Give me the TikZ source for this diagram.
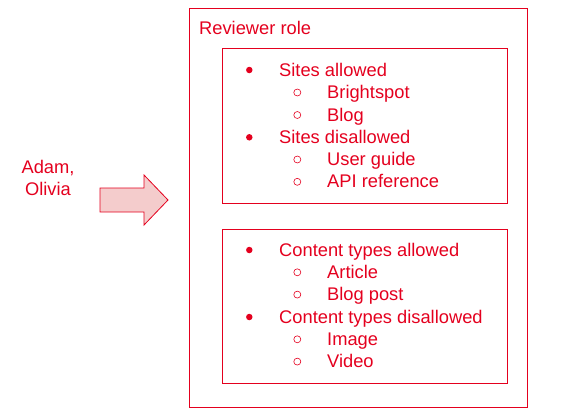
\documentclass[tikz,border=0pt]{standalone}
\usepackage{fontspec}
\setmainfont{Liberation Sans}
\definecolor{rd}{RGB}{228,0,30}
\definecolor{pk}{RGB}{244,204,204}
\begin{document}
\begin{tikzpicture}[x=1pt,y=-1pt,
  txt/.style={anchor=base west,inner sep=0pt,text=rd,font=\fontsize{18.3}{22}\selectfont},
  boxline/.style={draw=rd,line width=1pt},
  dotb/.style={circle,fill=rd,inner sep=0pt,minimum size=6.5pt},
  ringb/.style={circle,draw=rd,line width=0.6pt,inner sep=0pt,minimum size=7pt}]
\useasboundingbox (0,0) rectangle (580,410);
% outer and inner boxes
\draw[boxline] (189.5,8) rectangle (527,407.5);
\draw[boxline] (222,48.5) rectangle (507,203);
\draw[boxline] (222,229) rectangle (507,383);
\node[txt] (title) at (199,34.3) {Reviewer role};
% arrow
\draw[draw=rd,fill=pk,line width=0.8pt] (100,188) -- (144,188) -- (144,175) -- (168,200) -- (144,225) -- (144,212) -- (100,212) -- cycle;
\node[txt,anchor=base,align=center] (who) at (48,195.7) {Adam,\\[0pt]Olivia};
% box 1
\node[dotb] (b1) at (249.3,70) {};
\node[txt] (t1) at (279,76) {Sites allowed};
\node[ringb] (r1) at (297.3,92.5) {};
\node[txt] (t2) at (327,98.5) {Brightspot};
\node[ringb] (r2) at (297.3,115) {};
\node[txt] (t3) at (327,121) {Blog};
\node[dotb] (b2) at (249.3,137.3) {};
\node[txt] (t4) at (279,143.3) {Sites disallowed};
\node[ringb] (r3) at (297.3,159.5) {};
\node[txt] (t5) at (327,165.5) {User guide};
\node[ringb] (r4) at (297.3,181.8) {};
\node[txt] (t6) at (327,187.8) {API reference};
% box 2
\node[dotb] (b3) at (249.3,250) {};
\node[txt] (u1) at (279,256) {Content types allowed};
\node[ringb] (r5) at (297.3,272.3) {};
\node[txt] (u2) at (327,278.3) {Article};
\node[ringb] (r6) at (297.3,294.6) {};
\node[txt] (u3) at (327,300.6) {Blog post};
\node[dotb] (b4) at (249.3,317) {};
\node[txt] (u4) at (279,323) {Content types disallowed};
\node[ringb] (r7) at (297.3,339.3) {};
\node[txt] (u5) at (327,345.3) {Image};
\node[ringb] (r8) at (297.3,361.6) {};
\node[txt] (u6) at (327,367.6) {Video};
\end{tikzpicture}
\end{document}
